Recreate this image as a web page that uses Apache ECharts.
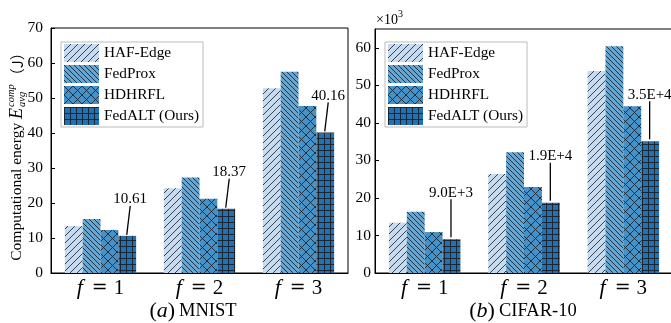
<!DOCTYPE html>
<html><head><meta charset="utf-8">
<script src="https://cdn.jsdelivr.net/npm/echarts@6/dist/echarts.min.js"></script>
<style>html,body{margin:0;padding:0;background:#fff}#c{width:671px;height:323px}</style>
</head><body><div id="c"></div>
<script>
// ---- data ----
const categories = ['1', '2', '3'];
const seriesNames = ['HAF-Edge', 'FedProx', 'HDHRFL', 'FedALT (Ours)'];
const mnistHAF = [13.4, 24.2, 52.8];
const mnistFedProx = [15.4, 27.3, 57.5];
const mnistHDHRFL = [12.3, 21.2, 47.7];
const mnistFedALT = [10.61, 18.37, 40.16];
const cifarHAF = [13.4, 26.4, 53.8];
const cifarFedProx = [16.3, 32.2, 60.4];
const cifarHDHRFL = [10.9, 22.9, 44.4];
const cifarFedALT = [9.0, 18.7, 35.1];
const mnistLabels = ['10.61', '18.37', '40.16'];
const cifarLabels = ['9.0E+3', '1.9E+4', '3.5E+4'];
const mnistAxis = { min: 0, max: 70, interval: 10 };
const cifarAxis = { min: 0, max: 65, interval: 10 };

// ---- styles ----
const SERIF = '"Liberation Serif", "Times New Roman", serif';
const GAP = 0.28;
function makePattern(bg, kind, size, lw) {
  const c = document.createElement('canvas');
  c.width = size; c.height = size;
  const g = c.getContext('2d');
  g.fillStyle = bg; g.fillRect(0, 0, size, size);
  g.strokeStyle = '#1c2530'; g.lineWidth = lw;
  g.beginPath();
  if (kind === '/' || kind === 'x') {
    g.moveTo(-1, size + 1); g.lineTo(size + 1, -1);
    g.moveTo(-2, 2); g.lineTo(2, -2);
    g.moveTo(size - 2, size + 2); g.lineTo(size + 2, size - 2);
  }
  if (kind === '\\' || kind === 'x') {
    g.moveTo(-1, -1); g.lineTo(size + 1, size + 1);
    g.moveTo(size - 2, -2); g.lineTo(size + 2, 2);
    g.moveTo(-2, size - 2); g.lineTo(2, size + 2);
  }
  if (kind === '+') {
    g.moveTo(0, 0.5); g.lineTo(size, 0.5);
    g.moveTo(0.5, 0); g.lineTo(0.5, size);
  }
  g.stroke();
  return { image: c, repeat: 'repeat' };
}
const fills = [
  makePattern('#c6dbef', '/', 7, 0.85),
  makePattern('#66a6d2', '\\', 5, 0.9),
  makePattern('#4592c8', 'x', 9, 0.9),
  makePattern('#2171b5', '+', 6, 1)
];

function barSeries(data, idx, axis) {
  return {
    name: seriesNames[idx], type: 'bar', data: data,
    xAxisIndex: axis, yAxisIndex: axis,
    barGap: '0%', barCategoryGap: (GAP * 100) + '%',
    itemStyle: { color: fills[idx] }, silent: true
  };
}
function annotSeries(axis, values, labels, dx, len, gap) {
  return {
    type: 'custom', xAxisIndex: axis, yAxisIndex: axis, z: 10, silent: true,
    data: values.map((v, i) => [i, v]),
    renderItem: function (params, api) {
      const p = api.coord([api.value(0), api.value(1)]);
      const cw = api.size([1, 0])[0];
      const bw = cw * (1 - GAP) / 4;
      const x = p[0] + 1.5 * bw - 0.5;
      const y0 = p[1] - gap, y1 = y0 - len;
      return {
        type: 'group', children: [
          { type: 'line', shape: { x1: x, y1: y0, x2: x + dx, y2: y1 }, style: { stroke: '#000', lineWidth: 1.3 } },
          { type: 'text', x: x + dx, y: y1 + 1, style: { text: labels[params.dataIndex], align: 'center', verticalAlign: 'bottom', fontSize: 15, fontFamily: SERIF, fill: '#000' } }
        ]
      };
    }
  };
}

function legendAt(left) {
  return {
    data: seriesNames, left: left, top: 42, orient: 'vertical',
    icon: 'rect', itemWidth: 35, itemHeight: 18, itemGap: 3,
    padding: [2, 4, 2, 3], borderColor: '#bbbbbb', borderWidth: 1, borderRadius: 0,
    backgroundColor: '#fff', selectedMode: false,
    textStyle: { fontFamily: SERIF, fontSize: 15.3, color: '#000' }
  };
}
function yAxisDef(grid, ax, margin, showMax) {
  return {
    type: 'value', gridIndex: grid, min: ax.min, max: ax.max, interval: ax.interval,
    axisLine: { show: true, lineStyle: { color: '#000', width: 1 } },
    axisTick: { show: true, inside: true, length: 4, lineStyle: { color: '#000' } },
    splitLine: { show: false },
    axisLabel: { margin: margin, fontFamily: SERIF, fontSize: 15.5, color: '#000', showMaxLabel: showMax }
  };
}
function xAxisDef(grid) {
  return {
    type: 'category', gridIndex: grid, data: categories,
    axisLine: { show: true, lineStyle: { color: '#000', width: 1 } },
    axisTick: { show: false },
    axisLabel: {
      margin: 4, color: '#000',
      formatter: v => '{f|f}{e|=}{n|' + v + '}',
      rich: {
        f: { fontFamily: SERIF, fontStyle: 'italic', fontSize: 22, color: '#000' },
        e: { fontFamily: '"DejaVu Serif", serif', fontSize: 19, color: '#000', padding: [0, 6, 0, 9] },
        n: { fontFamily: SERIF, fontSize: 21, color: '#000' }
      }
    }
  };
}

// y-axis title with sub/superscripts
const mctx = document.createElement('canvas').getContext('2d');
function tw(font, s) { mctx.font = font; return mctx.measureText(s).width; }
const fMain = '15.5px ' + SERIF, fE = 'italic 18px ' + SERIF, fS = 'italic 10.5px ' + SERIF;
const t1 = 'Computational energy ', t2 = 'E', tSup = 'comp', tSub = 'avg', t3 = '\uFF08J\uFF09';
const w1 = tw(fMain, t1), w2 = tw(fE, t2), wS = Math.max(tw(fS, tSup), tw(fS, tSub)), w3 = tw('15px "Noto Sans CJK SC"', t3);
const totalW = w1 + w2 + wS + 2 + w3;
let cx = -totalW / 2;
const yTitle = [];
yTitle.push({ type: 'text', x: cx, y: 0, style: { text: t1, fontSize: 15.5, fontFamily: SERIF, fill: '#000', verticalAlign: 'middle' } }); cx += w1;
yTitle.push({ type: 'text', x: cx, y: 0, style: { text: t2, fontSize: 18, fontStyle: 'italic', fontFamily: SERIF, fill: '#000', verticalAlign: 'middle' } }); cx += w2 + 1;
yTitle.push({ type: 'text', x: cx, y: -6, style: { text: tSup, fontSize: 10.5, fontStyle: 'italic', fontFamily: SERIF, fill: '#000', verticalAlign: 'middle' } });
yTitle.push({ type: 'text', x: cx, y: 5, style: { text: tSub, fontSize: 10.5, fontStyle: 'italic', fontFamily: SERIF, fill: '#000', verticalAlign: 'middle' } }); cx += wS + 1;
yTitle.push({ type: 'text', x: cx, y: 0, style: { text: t3, fontSize: 15, fontFamily: '"Noto Sans CJK SC"', fill: '#000', verticalAlign: 'middle' } });

const capRich = {
  p: { fontFamily: SERIF, fontSize: 22, color: '#000' },
  a: { fontFamily: SERIF, fontStyle: 'italic', fontSize: 22, color: '#000' },
  b: { fontFamily: SERIF, fontSize: 18.5, color: '#000', padding: [0, 0, 0, 4] }
};

const chart = echarts.init(document.getElementById('c'), null, { renderer: 'canvas' });
chart.setOption({
  animation: false,
  backgroundColor: '#fff',
  grid: [
    { left: 51, top: 28, width: 297, height: 245, show: true, borderColor: '#000', borderWidth: 1, backgroundColor: 'transparent', containLabel: false, outerBoundsMode: 'none' },
    { left: 375, top: 29, width: 298, height: 244, show: true, borderColor: '#000', borderWidth: 1, backgroundColor: 'transparent', containLabel: false, outerBoundsMode: 'none' }
  ],
  xAxis: [xAxisDef(0), xAxisDef(1)],
  yAxis: [yAxisDef(0, mnistAxis, 8, true), yAxisDef(1, cifarAxis, 4, false)],
  legend: [legendAt(61), legendAt(385)],
  series: [
    barSeries(mnistHAF, 0, 0), barSeries(mnistFedProx, 1, 0), barSeries(mnistHDHRFL, 2, 0), barSeries(mnistFedALT, 3, 0),
    barSeries(cifarHAF, 0, 1), barSeries(cifarFedProx, 1, 1), barSeries(cifarHDHRFL, 2, 1), barSeries(cifarFedALT, 3, 1),
    annotSeries(0, mnistFedALT, mnistLabels, 3.5, 29, 1),
    annotSeries(1, cifarFedALT, cifarLabels, 0, 38, 2)
  ],
  graphic: [
    { type: 'group', x: 17, y: 153, rotation: Math.PI / 2, children: yTitle },
    { type: 'text', x: 193, y: 311, style: { text: '{p|(}{a|a}{p|)}{b|MNIST}', rich: capRich, align: 'center', verticalAlign: 'middle' } },
    { type: 'text', x: 523, y: 311, style: { text: '{p|(}{a|b}{p|)}{b|CIFAR-10}', rich: capRich, align: 'center', verticalAlign: 'middle' } },
    { type: 'text', x: 376, y: 20, style: { text: '\u00D710', fontSize: 14, fontFamily: SERIF, fill: '#000', verticalAlign: 'middle' } },
    { type: 'text', x: 398, y: 14, style: { text: '3', fontSize: 10, fontFamily: SERIF, fill: '#000', verticalAlign: 'middle' } }
  ]
});
</script>
</body></html>
